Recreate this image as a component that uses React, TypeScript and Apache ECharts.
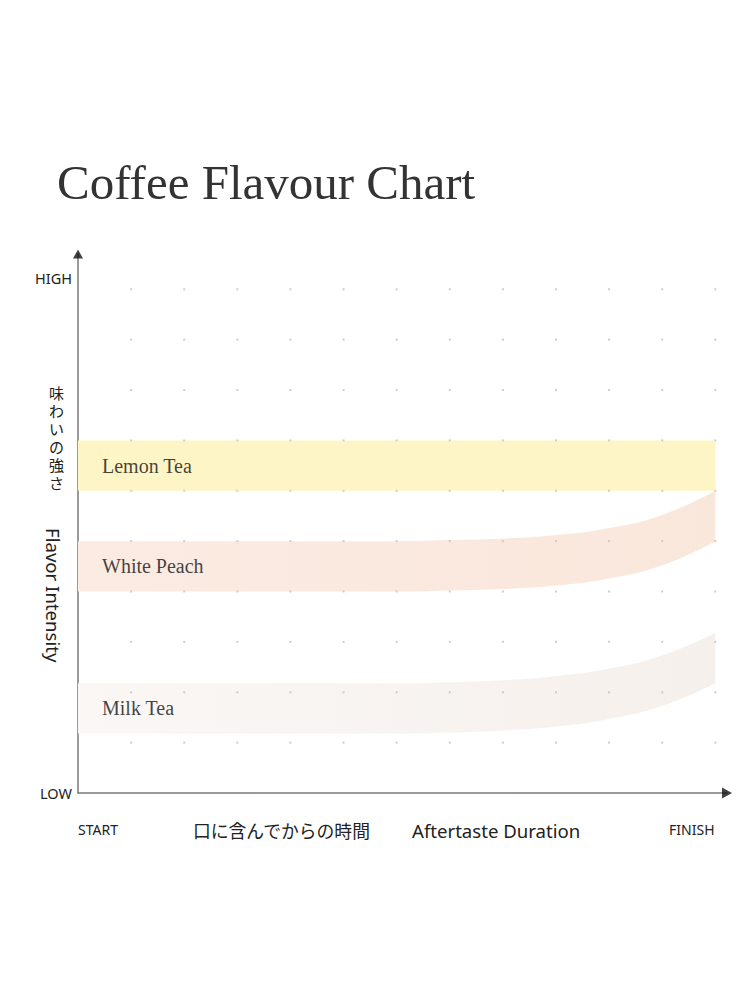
import { useEffect, useRef } from "react";
import * as echarts from "echarts";

// time steps along the x axis (START = 0, FINISH = 12)
const steps = [0, 1, 2, 3, 4, 5, 6, 7, 8, 9, 10, 11, 12];
// dot grid rows
const levels = [1, 2, 3, 4, 5, 6, 7, 8, 9, 10];

const bandNames = ["Lemon Tea", "White Peach", "Milk Tea"];
const lemonLow = [6, 6, 6, 6, 6, 6, 6, 6, 6, 6, 6, 6, 6];
const lemonHigh = [7, 7, 7, 7, 7, 7, 7, 7, 7, 7, 7, 7, 7];
const peachLow = [4, 4, 4, 4, 4, 4, 4, 4.02, 4.05, 4.12, 4.26, 4.52, 5.0];
const peachHigh = [5, 5, 5, 5, 5, 5, 5, 5.02, 5.05, 5.12, 5.26, 5.52, 6.0];
const milkLow = [1.18, 1.18, 1.18, 1.18, 1.18, 1.18, 1.18, 1.2, 1.24, 1.32, 1.47, 1.73, 2.18];
const milkHigh = [2.18, 2.18, 2.18, 2.18, 2.18, 2.18, 2.18, 2.2, 2.24, 2.32, 2.47, 2.73, 3.18];

const yTickLabels: Record<number, string> = { 0: "LOW", 10: "HIGH" };
const xTickLabels: Record<number, string> = { 0: "START", 12: "FINISH" };

const SANS = "'Noto Sans', sans-serif";
const SERIF = "'Liberation Serif', serif";
const CJK = "'Noto Sans CJK JP', sans-serif";

const X_MAX = 12.22;
const Y_MAX = 10.7;

// bands live in grid 0 on a category axis so that stacking runs along y
function bandSeries(
  key: string,
  low: number[],
  high: number[],
  colorLeft: string,
  colorRight: string
): any[] {
  const common = {
    type: "line",
    xAxisIndex: 0,
    yAxisIndex: 0,
    stack: key,
    smooth: 0.5,
    symbol: "none",
    lineStyle: { width: 0, opacity: 0 },
    silent: true,
    z: 1,
  };
  return [
    { ...common, data: low },
    {
      ...common,
      data: high.map((h, i) => +(h - low[i]).toFixed(3)),
      areaStyle: {
        opacity: 1,
        color: new echarts.graphic.LinearGradient(0, 0, 1, 0, [
          { offset: 0, color: colorLeft },
          { offset: 1, color: colorRight },
        ]),
      },
    },
  ];
}

export default function App() {
  const ref = useRef<HTMLDivElement>(null);

  useEffect(() => {
    if (!ref.current) return;
    const chart = echarts.init(ref.current, null, { renderer: "svg" });

    const dots: number[][] = [];
    steps.slice(1).forEach((x) => levels.forEach((y) => dots.push([x, y])));

    const labelPoints = [
      { name: bandNames[0], value: [0, (lemonLow[0] + lemonHigh[0]) / 2] },
      { name: bandNames[1], value: [0, (peachLow[0] + peachHigh[0]) / 2] },
      { name: bandNames[2], value: [0, (milkLow[0] + milkHigh[0]) / 2] },
    ];

    const plotLeft = 78;
    const plotRight = 23;
    const plotWidth = 750 - plotLeft - plotRight;
    const bandRight = 750 - plotLeft - (plotWidth * 12) / X_MAX;

    const axisLine = {
      show: true,
      lineStyle: { color: "#7a7a7a", width: 1.5 },
    };

    chart.setOption({
      animation: false,
      backgroundColor: "#ffffff",
      title: {
        text: "Coffee Flavour Chart",
        left: 52,
        top: 153,
        textStyle: {
          fontFamily: SERIF,
          fontSize: 49,
          fontWeight: "normal",
          color: "#333333",
        },
      },
      grid: [
        { left: plotLeft, right: bandRight, top: 254, bottom: 207 },
        { left: plotLeft, right: plotRight, top: 254, bottom: 207 },
      ],
      xAxis: [
        {
          type: "category",
          gridIndex: 0,
          data: steps,
          boundaryGap: false,
          show: false,
        },
        {
          type: "value",
          gridIndex: 1,
          min: 0,
          max: X_MAX,
          interval: 1,
          splitLine: { show: false },
          axisTick: { show: false },
          axisLine,
          axisLabel: {
            margin: 29,
            alignMinLabel: "left",
            formatter: (v: number) => {
              if (v === 0) return "{s|" + xTickLabels[0] + "}";
              if (v === 12) return "{f|" + xTickLabels[12] + "}";
              return "";
            },
            rich: {
              s: { fontFamily: SANS, fontSize: 14, color: "#222222" },
              f: {
                fontFamily: SANS,
                fontSize: 14,
                color: "#222222",
                padding: [0, 47, 0, 0],
              },
            },
          },
        },
      ],
      yAxis: [
        {
          type: "value",
          gridIndex: 0,
          min: 0,
          max: Y_MAX,
          show: false,
          splitLine: { show: false },
        },
        {
          type: "value",
          gridIndex: 1,
          min: 0,
          max: Y_MAX,
          interval: 1,
          splitLine: { show: false },
          axisTick: { show: false },
          axisLine,
          axisLabel: {
            margin: 6,
            formatter: (v: number) => {
              if (v === 0) return "{l|" + yTickLabels[0] + "}";
              if (v === 10) return "{h|" + yTickLabels[10] + "}";
              return "";
            },
            rich: {
              l: { fontFamily: SANS, fontSize: 14.5, color: "#222222" },
              h: {
                fontFamily: SANS,
                fontSize: 14.5,
                color: "#222222",
                padding: [0, 0, 22, 0],
              },
            },
          },
        },
      ],
      graphic: [
        {
          type: "text",
          left: 49,
          top: 383,
          style: {
            text: "味\nわ\nい\nの\n強\nさ",
            font: "15px " + CJK,
            lineHeight: 18,
            fill: "#222222",
          },
        },
        {
          type: "text",
          x: 44,
          y: 528,
          rotation: -Math.PI / 2,
          style: {
            text: "Flavor Intensity",
            font: "18.6px " + SANS,
            fill: "#222222",
            textVerticalAlign: "bottom",
          },
        },
        {
          type: "text",
          x: 193,
          y: 830,
          style: {
            text: "口に含んでからの時間",
            font: "17.8px " + CJK,
            fill: "#222222",
            textVerticalAlign: "middle",
          },
        },
        {
          type: "text",
          x: 412,
          y: 830,
          style: {
            text: "Aftertaste Duration",
            font: "18.6px " + SANS,
            fill: "#222222",
            textVerticalAlign: "middle",
          },
        },
      ],
      series: [
        ...bandSeries("lemon", lemonLow, lemonHigh, "#fef5c6", "#fef5c6"),
        ...bandSeries("peach", peachLow, peachHigh, "#fbebe2", "#fae7dc"),
        ...bandSeries("milk", milkLow, milkHigh, "#faf7f5", "#f6f0ec"),
        {
          type: "scatter",
          xAxisIndex: 1,
          yAxisIndex: 1,
          data: dots,
          symbol: "rect",
          symbolSize: 2,
          itemStyle: { color: "#c2c2c2" },
          silent: true,
          z: 3,
        },
        // arrow heads at the ends of both axes
        {
          type: "scatter",
          xAxisIndex: 1,
          yAxisIndex: 1,
          clip: false,
          silent: true,
          symbol: "triangle",
          itemStyle: { color: "#111111" },
          z: 5,
          data: [
            { value: [X_MAX, 0], symbolSize: [11, 10], symbolRotate: -90 },
            { value: [0, Y_MAX], symbolSize: [10, 9], symbolRotate: 0 },
          ],
        },
        {
          type: "scatter",
          xAxisIndex: 1,
          yAxisIndex: 1,
          data: labelPoints,
          symbolSize: 0,
          silent: true,
          z: 4,
          label: {
            show: true,
            position: "right",
            distance: 24,
            formatter: "{b}",
            fontFamily: SERIF,
            fontSize: 20,
            color: "#111111",
          },
        },
      ],
    });

    return () => chart.dispose();
  }, []);

  return (
    <div
      ref={ref}
      style={{ position: "fixed", left: 0, top: 0, width: 750, height: 1000 }}
    />
  );
}
